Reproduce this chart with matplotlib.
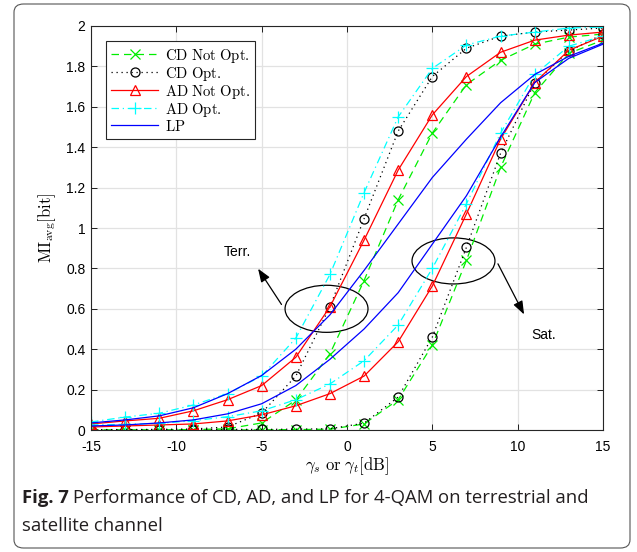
import matplotlib
matplotlib.use("Agg")
import matplotlib.pyplot as plt
from matplotlib.patches import Ellipse, FancyBboxPatch
import numpy as np

plt.rcParams['mathtext.fontset'] = 'cm'
plt.rcParams['font.family'] = 'Liberation Sans'
plt.rcParams['axes.unicode_minus'] = False

# SNR grid (dB), markers every 2 dB
snr = [-15, -13, -11, -9, -7, -5, -3, -1, 1, 3, 5, 7, 9, 11, 13, 15]

# terrestrial channel
cd_not_terr = [0.0, 0.0, 0.0, 0.002, 0.006, 0.035, 0.148, 0.377, 0.74, 1.14, 1.47, 1.71, 1.83, 1.91, 1.945, 1.96]
cd_opt_terr = [0.002, 0.002, 0.003, 0.005, 0.015, 0.084, 0.267, 0.61, 1.046, 1.48, 1.75, 1.89, 1.95, 1.97, 1.98, 1.99]
ad_not_terr = [0.03, 0.045, 0.058, 0.095, 0.15, 0.22, 0.36, 0.61, 0.94, 1.287, 1.56, 1.75, 1.87, 1.93, 1.955, 1.97]
ad_opt_terr = [0.04, 0.064, 0.083, 0.124, 0.18, 0.267, 0.455, 0.77, 1.175, 1.55, 1.79, 1.906, 1.95, 1.97, 1.99, 1.995]
lp_terr = [0.035, 0.05, 0.07, 0.11, 0.18, 0.27, 0.40, 0.57, 0.79, 1.02, 1.25, 1.44, 1.62, 1.76, 1.85, 1.915]

# satellite channel
cd_not_sat = [0.0, 0.0, 0.0, 0.0, 0.0, 0.001, 0.002, 0.004, 0.03, 0.15, 0.42, 0.84, 1.30, 1.67, 1.865, 1.93]
cd_opt_sat = [0.002, 0.002, 0.002, 0.002, 0.003, 0.003, 0.004, 0.006, 0.034, 0.163, 0.46, 0.905, 1.37, 1.72, 1.875, 1.96]
ad_not_sat = [0.015, 0.02, 0.025, 0.03, 0.045, 0.075, 0.12, 0.18, 0.267, 0.437, 0.713, 1.07, 1.44, 1.72, 1.88, 1.95]
ad_opt_sat = [0.025, 0.028, 0.033, 0.046, 0.066, 0.095, 0.15, 0.228, 0.343, 0.52, 0.80, 1.12, 1.47, 1.76, 1.90, 1.95]
lp_sat = [0.02, 0.025, 0.035, 0.05, 0.08, 0.13, 0.22, 0.35, 0.50, 0.68, 0.92, 1.16, 1.45, 1.72, 1.84, 1.91]

fig = plt.figure(figsize=(6.37, 5.52), dpi=100)
ax = fig.add_axes([0.1429, 0.221, 0.8037, 0.7319])

styles = [
    ('CD Not Opt.', cd_not_terr, cd_not_sat, dict(color='#00ee00', ls=(0, (6, 4)), marker='x', ms=7)),
    ('CD Opt.', cd_opt_terr, cd_opt_sat, dict(color='black', ls=(0, (1, 3)), marker='o', ms=6.5, mfc='none')),
    ('AD Not Opt.', ad_not_terr, ad_not_sat, dict(color='red', ls='-', marker='^', ms=7.5, mfc='none')),
    ('AD Opt.', ad_opt_terr, ad_opt_sat, dict(color='cyan', ls=(0, (6, 3, 1, 3)), marker='+', ms=9)),
    ('LP', lp_terr, lp_sat, dict(color='blue', ls='-')),
]
for name, yt, ys, st in styles:
    ax.plot(snr, yt, lw=0.9, mew=0.9, label=r'$\mathrm{' + name.replace(' ', r'\ ') + '}$', **st)
    ax.plot(snr, ys, lw=0.9, mew=0.9, **st)

ax.set_xlim(-15, 15)
ax.set_ylim(0, 2)
ax.set_xticks([-15, -10, -5, 0, 5, 10, 15])
ax.set_yticks(np.arange(0, 2.01, 0.2))
ax.set_yticklabels(['0', '0.2', '0.4', '0.6', '0.8', '1', '1.2', '1.4', '1.6', '1.8', '2'])
ax.tick_params(direction='in', top=True, right=True, labelsize=10, length=4, width=0.6, pad=4)
ax.tick_params(axis='x', pad=7)
ax.grid(True, color='#e2e2e2', lw=0.9)
ax.set_axisbelow(True)
for s in ax.spines.values():
    s.set_linewidth(0.8)
    s.set_color('#262626')

ax.set_xlabel(r'$\gamma_s\ \mathrm{or}\ \gamma_t[\mathrm{dB}]$', fontsize=12, labelpad=1)
ax.set_ylabel(r'$\mathrm{MI}_{\mathrm{avg}}[\mathrm{bit}]$', fontsize=12, labelpad=6)

leg = ax.legend(loc='upper left', bbox_to_anchor=(0.029, 0.962), borderaxespad=0,
                fontsize=10.6, handlelength=3.2, labelspacing=0.0, handletextpad=0.45,
                fancybox=False, framealpha=1, edgecolor='#262626', borderpad=0.35)
leg.get_frame().set_linewidth(0.8)

# annotations
ax.add_patch(Ellipse((-1.2, 0.60), 4.86, 0.233, fill=False, color='black', lw=0.9))
ax.add_patch(Ellipse((6.24, 0.837), 4.86, 0.228, fill=False, color='black', lw=0.9))
ax.annotate('', xy=(-5.3, 0.81), xytext=(-3.75, 0.61),
            arrowprops=dict(arrowstyle='-|>,head_length=0.8,head_width=0.3', color='black', lw=0.9))
ax.annotate('', xy=(10.45, 0.56), xytext=(8.77, 0.835),
            arrowprops=dict(arrowstyle='-|>,head_length=0.8,head_width=0.3', color='black', lw=0.9))
ax.text(-6.4, 0.88, 'Terr.', fontsize=10, ha='center', va='center')
ax.text(11.55, 0.47, 'Sat.', fontsize=10, ha='center', va='center')

# frame around figure + caption
fig.patches.append(FancyBboxPatch((14 / 637, 4 / 552), 616 / 637, 544 / 552,
                                  boxstyle='round,pad=0,rounding_size=0.015',
                                  transform=fig.transFigure, fill=False,
                                  edgecolor='#555555', lw=0.8))
cap_font = 'Open Sans'
cap_size = 13.3
t1 = fig.text(22 / 637, 1 - 498 / 552, 'Fig. 7', fontsize=cap_size, fontweight='bold',
              family=cap_font, va='center', color='#231f20')
fig.canvas.draw()
bb = t1.get_window_extent(fig.canvas.get_renderer())
fig.text(bb.x1 / 637 + 4 / 637, 1 - 498 / 552,
         'Performance of CD, AD, and LP for 4-QAM on terrestrial and',
         fontsize=cap_size, family=cap_font, va='center', color='#231f20')
fig.text(22 / 637, 1 - 526 / 552, 'satellite channel', fontsize=cap_size, family=cap_font,
         va='center', color='#231f20')

fig.savefig('out.png', dpi=100)
